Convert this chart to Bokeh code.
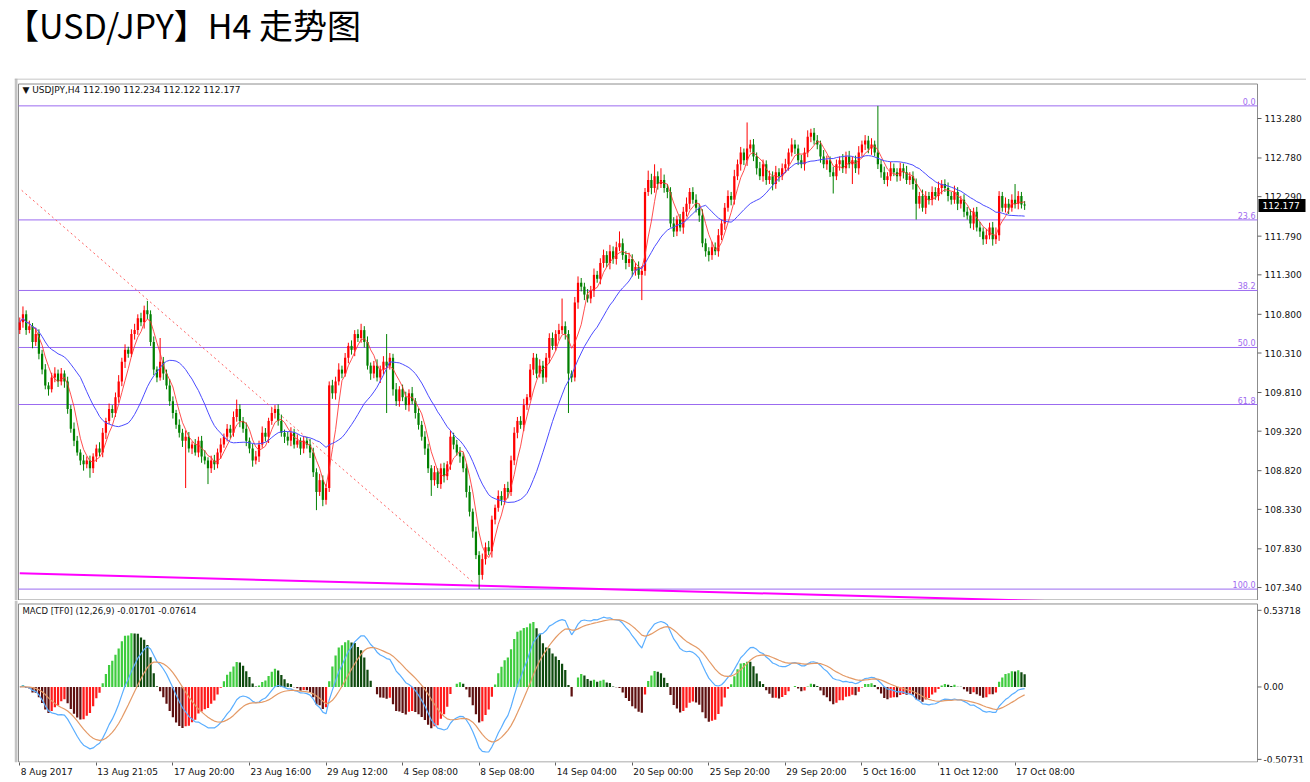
import numpy as np
import pandas as pd
from bokeh.plotting import figure
from bokeh.layouts import column
from bokeh.models import ColumnDataSource, Range1d, FixedTicker, Label, Div
from bokeh.core.properties import value
from bokeh.embed import file_html
from bokeh.resources import INLINE

# ---------------- data ----------------
closes = [
    110.70, 110.80, 110.60, 110.65, 110.45, 110.55, 110.30, 110.10, 109.90, 109.85,
    110.00, 110.05, 109.95, 110.05, 109.95, 109.60, 109.35, 109.20, 109.05, 108.95,
    108.90, 108.95, 108.85, 109.00, 109.10, 109.05, 109.30, 109.45, 109.60, 109.55,
    109.75, 109.95, 110.20, 110.35, 110.30, 110.55, 110.60, 110.75, 110.70, 110.85,
    110.80, 110.45, 110.10, 110.00, 110.20, 110.05, 109.90, 109.70, 109.55, 109.40,
    109.30, 109.20, 109.25, 109.10, 109.15, 109.05, 109.20, 109.00, 108.95, 108.85,
    108.95, 108.90, 109.05, 109.15, 109.25, 109.35, 109.30, 109.50, 109.60, 109.45,
    109.35, 109.20, 109.10, 108.95, 109.00, 109.15, 109.30, 109.25, 109.45, 109.55,
    109.60, 109.45, 109.30, 109.25, 109.20, 109.30, 109.15, 109.20, 109.10, 109.20,
    109.15, 109.05, 108.80, 108.55, 108.70, 108.45, 108.60, 109.90, 109.80, 109.95,
    110.10, 110.05, 110.25, 110.40, 110.35, 110.55, 110.50, 110.60, 110.45, 110.15,
    110.05, 110.15, 110.00, 110.10, 110.20, 110.15, 110.25, 109.85, 109.70, 109.85,
    109.75, 109.65, 109.80, 109.70, 109.55, 109.40, 109.25, 109.10, 108.85, 108.70,
    108.80, 108.65, 108.85, 108.75, 108.90, 109.25, 109.15, 109.05, 109.00, 108.85,
    108.55, 108.30, 108.05, 107.75, 107.50, 107.70, 107.85, 107.80, 108.20, 108.35,
    108.50, 108.45, 108.60, 108.55, 108.95, 109.30, 109.45, 109.40, 109.65, 109.75,
    110.10, 110.25, 110.05, 110.15, 110.00, 110.25, 110.50, 110.40, 110.55, 110.60,
    110.65, 110.55, 110.05, 110.00, 110.95, 111.20, 111.15, 111.05, 111.00, 111.10,
    111.30, 111.25, 111.45, 111.55, 111.45, 111.60, 111.50, 111.65, 111.70, 111.55,
    111.45, 111.50, 111.35, 111.40, 111.30, 111.35, 112.35, 112.50, 112.40, 112.55,
    112.45, 112.50, 112.40, 112.35, 111.95, 111.85, 112.00, 111.90, 112.10, 112.20,
    112.35, 112.25, 112.15, 112.05, 111.70, 111.60, 111.55, 111.65, 111.60, 111.80,
    111.95, 112.15, 112.30, 112.25, 112.55, 112.70, 112.85, 112.75, 112.90, 112.95,
    112.80, 112.65, 112.55, 112.70, 112.50, 112.55, 112.45, 112.60, 112.55, 112.65,
    112.70, 112.85, 112.95, 112.90, 112.75, 112.70, 112.85, 113.05, 113.10, 113.00,
    112.95, 112.80, 112.70, 112.75, 112.60, 112.55, 112.70, 112.75, 112.65, 112.80,
    112.70, 112.75, 112.65, 112.85, 112.95, 113.00, 112.90, 112.95, 112.85, 112.70,
    112.60, 112.50, 112.55, 112.65, 112.60, 112.55, 112.65, 112.60, 112.50, 112.55,
    112.45, 112.20, 112.30, 112.15, 112.30, 112.25, 112.35, 112.30, 112.40, 112.45,
    112.40, 112.30, 112.25, 112.35, 112.20, 112.25, 112.10, 112.05, 111.95, 112.10,
    111.90, 111.85, 111.75, 111.80, 111.90, 111.75, 111.80, 112.30, 112.15, 112.20,
    112.15, 112.25, 112.20, 112.30, 112.19, 112.177,
]
first_open = 110.60

# wick lengths beyond the body, in hundredths of a yen
upper_wick = [
    6, 10, 5, 7, 4, 8, 6, 5, 7, 4, 6, 8, 5, 7, 4, 6, 5, 8, 6, 4, 7, 5, 6, 4,
    5, 8, 6, 4, 7, 5, 6, 8, 5, 7, 4, 6, 8, 5, 7, 6, 12, 5, 7, 4, 30, 6, 5, 8,
    6, 4, 7, 5, 8, 6, 4, 7, 5, 6, 8, 4, 6, 7, 5, 8, 4, 6, 5, 7, 12, 6, 5, 8,
    4, 6, 7, 5, 8, 6, 4, 7, 5, 6, 8, 4, 6, 7, 5, 8, 4, 6, 5, 7, 6, 5, 8, 6,
    5, 5, 7, 6, 8, 5, 6, 4, 7, 5, 6, 8, 5, 7, 4, 6, 8, 5, 7, 35, 6, 5, 8, 4,
    6, 7, 5, 8, 4, 6, 5, 7, 6, 4, 8, 5, 6, 7, 4, 8, 5, 6, 7, 5, 6, 8, 4, 6,
    5, 7, 6, 8, 5, 4, 7, 6, 5, 8, 6, 7, 5, 6, 8, 4, 7, 6, 5, 8, 6, 6, 6, 7,
    5, 8, 35, 6, 5, 4, 7, 8, 6, 5, 7, 6, 8, 5, 6, 7, 5, 8, 6, 7, 15, 6, 5, 8,
    6, 5, 7, 6, 5, 12, 8, 15, 6, 15, 7, 5, 6, 8, 5, 7, 6, 8, 5, 6, 7, 5, 8, 6,
    5, 7, 6, 8, 5, 6, 7, 5, 8, 6, 7, 5, 33, 6, 7, 5, 8, 6, 5, 7, 6, 8, 5, 6,
    7, 5, 8, 6, 5, 7, 6, 8, 5, 6, 7, 5, 8, 6, 5, 7, 6, 5, 8, 6, 7, 5, 6, 8,
    5, 7, 6, 8, 5, 59, 6, 7, 5, 8, 6, 5, 7, 6, 8, 5, 6, 7, 5, 8, 6, 5, 7, 6,
    8, 5, 6, 7, 5, 8, 6, 5, 7, 6, 8, 5, 6, 7, 5, 8, 6, 7, 10, 6, 5, 8, 6, 7,
    20, 6, 5, 4.4,
]
lower_wick = [
    5, 7, 6, 4, 8, 5, 7, 6, 5, 8, 4, 6, 7, 5, 8, 6, 5, 7, 4, 6, 8, 5, 12, 6,
    7, 5, 6, 8, 4, 6, 5, 7, 6, 8, 5, 4, 7, 6, 5, 8, 6, 5, 7, 6, 4, 8, 5, 6,
    7, 5, 6, 8, 60, 5, 7, 4, 6, 8, 5, 20, 6, 7, 5, 8, 4, 6, 7, 5, 6, 8, 5, 7,
    6, 8, 5, 7, 4, 6, 8, 5, 7, 6, 5, 8, 6, 7, 5, 4, 8, 6, 5, 7, 6, 23, 5, 8,
    6, 5, 7, 8, 5, 6, 4, 7, 6, 8, 5, 6, 7, 5, 8, 6, 5, 7, 6, 60, 5, 8, 6, 7,
    5, 6, 8, 4, 7, 6, 5, 8, 6, 20, 7, 5, 6, 8, 5, 7, 6, 4, 8, 5, 7, 6, 8, 5,
    18, 6, 7, 5, 8, 6, 5, 7, 6, 8, 5, 6, 7, 5, 8, 6, 4, 7, 6, 5, 8, 6, 7, 5,
    6, 8, 5, 7, 50, 6, 5, 8, 6, 7, 5, 6, 8, 5, 7, 6, 5, 8, 6, 7, 5, 6, 8, 5,
    7, 6, 5, 32, 6, 5, 8, 6, 7, 5, 6, 8, 5, 7, 6, 5, 8, 6, 7, 5, 6, 8, 5, 7,
    8, 6, 5, 7, 6, 8, 5, 7, 6, 5, 8, 6, 7, 5, 6, 8, 5, 7, 6, 5, 8, 6, 7, 5,
    6, 8, 5, 7, 6, 5, 8, 6, 7, 5, 6, 8, 5, 7, 6, 22, 5, 8, 6, 7, 5, 25, 6, 8,
    5, 7, 6, 8, 5, 6, 7, 5, 8, 6, 5, 7, 6, 8, 5, 6, 7, 20, 6, 5, 8, 6, 7, 5,
    6, 8, 5, 7, 6, 5, 8, 6, 7, 5, 6, 8, 5, 7, 7, 6, 5, 8, 6, 7, 5, 6, 8, 5,
    6, 7, 5, 5.5,
]

price_ticks = [113.28, 112.78, 112.29, 111.79, 111.30, 110.80, 110.31, 109.81,
               109.32, 108.82, 108.33, 107.83, 107.34]
macd_ticks = [0.53718, 0.0, -0.50731]
macd_tick_labels = ["0.53718", "0.00", "-0.50731"]
date_ticks = [0, 24, 48, 72, 96, 120, 144, 168, 192, 216, 240, 264, 288, 312]
date_labels = ["8 Aug 2017", "13 Aug 21:05", "17 Aug 20:00", "23 Aug 16:00",
               "29 Aug 12:00", "4 Sep 08:00", "8 Sep 08:00", "14 Sep 04:00",
               "20 Sep 00:00", "25 Sep 20:00", "29 Sep 20:00", "5 Oct 16:00",
               "11 Oct 12:00", "17 Oct 08:00"]
fib_levels = [0.0, 23.6, 38.2, 50.0, 61.8, 100.0]
fib_high = 113.44
fib_low = 107.32
trend_x = [0.6, 142.3]
trend_y = [112.37, 107.40]
support_x = [0, 330]
support_y = [107.52, 107.16]
last_price = 112.177
info_text = "\u25BC USDJPY,H4  112.190 112.234 112.122 112.177"
macd_text = "MACD [TF0] (12,26,9) -0.01701 -0.07614"
title_text = "【USD/JPY】H4 走势图"

# ---------------- derived ----------------
n = len(closes)
idx = np.arange(n)
c = np.array(closes)
o = np.concatenate([[first_open], c[:-1]])
top = np.maximum(o, c)
bot = np.minimum(o, c)
hi = top + np.array(upper_wick) / 100.0
lo = bot - np.array(lower_wick) / 100.0
UP, DN = "#FF0000", "#008000"
ccol = [UP if cc >= oo else DN for oo, cc in zip(o, c)]
bot_draw = np.where(top - bot < 0.012, top - 0.012, bot)

s = pd.Series(c)
ma_fast = s.rolling(5, min_periods=1).mean()
ma_slow = s.rolling(20, min_periods=1).mean()
dif = s.ewm(span=12, adjust=False).mean() - s.ewm(span=26, adjust=False).mean()
dea = dif.ewm(span=9, adjust=False).mean()
hist = 2 * (dif - dea)
hcol = []
for i, h in enumerate(hist):
    prev = hist[i - 1] if i > 0 else 0.0
    if h >= 0:
        hcol.append("#3FCC3F" if h >= prev else "#0E4A0E")
    else:
        hcol.append("#5E1010" if h < prev else "#FF1A1A")

src = ColumnDataSource(dict(x=idx, o=o, c=c, hi=hi, lo=lo, top=top, bot=bot_draw,
                            col=ccol, maf=ma_fast, mas=ma_slow,
                            dif=dif, dea=dea, hist=hist, hcol=hcol))

# ---------------- layout constants (pixels) ----------------
FONT = "DejaVu Sans"
W = 1306
LEFT = 14                        # frame starts at the window border band
PPB = 3.19                       # pixels per bar
XL = -0.4                        # bar value at the inner panel edge (x = 18 px)
X0 = XL - 4 / PPB                # bar value at frame left (x = 14 px)
X1 = X0 + (W - LEFT) / PPB
EDGE = XL + 1239 / PPB           # right panel edge (x = 1257 px)
GRAY = "#8C8C8C"

P1_H = 522                       # price frame 78 .. 600 px
PPY = 78.96                      # px per yen
Y1 = 113.28 + 40 / PPY           # value at y = 78 px
Y0 = Y1 - P1_H / PPY

P2_H = 179
P2_AX = 16
PPM = 143.6                      # px per MACD unit
M1 = 87 / PPM                    # value at y = 600 px
M0 = M1 - (P2_H - P2_AX) / PPM


def bx(px):
    return px / PPB


def py(px):
    return px / PPY


def pm(px):
    return px / PPM


xr = Range1d(X0, X1)

# ---------------- price panel ----------------
p1 = figure(width=W, height=P1_H, title=None, x_range=xr, y_range=Range1d(Y0, Y1),
            output_backend="svg", toolbar_location=None,
            x_axis_location=None, y_axis_location=None,
            min_border_left=LEFT, min_border_right=0, min_border_top=0, min_border_bottom=0)
p1.grid.visible = False
p1.outline_line_color = None
p1.background_fill_color = "white"
p1.border_fill_color = "white"

# window border band and top line
p1.quad(left=[X0], right=[X0 + bx(3)], bottom=[Y0], top=[Y1], fill_color="#C4C4C4", line_color=None)
p1.segment(x0=[X0], x1=[X1], y0=[Y1 - py(0.5)], y1=[Y1 - py(0.5)], line_color="#B4B4B4")
# panel frame (top, bottom, left, right)
ptop, pbot = Y1 - py(5.5), Y0 + py(0.5)
p1.segment(x0=[XL, XL, XL, EDGE], y0=[ptop, pbot, pbot, pbot],
           x1=[EDGE, EDGE, XL, EDGE], y1=[ptop, pbot, ptop, ptop],
           line_color=GRAY, line_width=1)

# fibonacci levels
fib_prices = [fib_high - (fib_high - fib_low) * lv / 100.0 for lv in fib_levels]
p1.segment(x0=[XL] * len(fib_prices), x1=[EDGE] * len(fib_prices), y0=fib_prices, y1=fib_prices,
           line_color="#9B6BF0", line_width=1)
p1.text(x=[EDGE - bx(2)] * len(fib_prices), y=[fp + py(1) for fp in fib_prices],
        text=[f"{lv:.1f}" for lv in fib_levels], text_align="right", text_baseline="bottom",
        text_font=value(FONT), text_font_size="8px", text_color="#A06AF0")

p1.line(trend_x, trend_y, line_color="#FF6060", line_width=1, line_dash="2 3")
p1.line(support_x, support_y, line_color="#FF00FF", line_width=2)

p1.segment(x0="x", y0="hi", x1="x", y1="lo", color="col", line_width=1, source=src)
p1.vbar(x="x", width=0.7, top="top", bottom="bot", fill_color="col", line_color=None, source=src)
p1.line("x", "maf", source=src, line_color="#FF3030", line_width=1, line_alpha=0.85)
p1.line("x", "mas", source=src, line_color="#4B4BFF", line_width=1)

# price scale on the right
p1.segment(x0=[EDGE] * len(price_ticks), x1=[EDGE + bx(4)] * len(price_ticks),
           y0=price_ticks, y1=price_ticks, line_color="#606060", line_width=1)
p1.text(x=[EDGE + bx(7)] * len(price_ticks), y=price_ticks,
        text=[f"{t:.3f}" for t in price_ticks], text_align="left", text_baseline="middle",
        text_font=value(FONT), text_font_size="9px", text_color="#111111")
# current price tag
p1.quad(left=[EDGE + bx(1)], right=[EDGE + bx(48)], bottom=[last_price - py(6.5)],
        top=[last_price + py(6.5)], fill_color="black", line_color=None)
p1.text(x=[EDGE + bx(5)], y=[last_price], text=[f"{last_price:.3f}"], text_align="left",
        text_baseline="middle", text_font=value(FONT), text_font_size="9px", text_color="white")

p1.add_layout(Label(x=XL + bx(4), y=Y1 - py(11), text=info_text, text_font=FONT,
                    text_font_size="9px", text_color="#111111", text_baseline="middle"))

# ---------------- MACD panel ----------------
p2 = figure(width=W, height=P2_H, title=None, x_range=xr, y_range=Range1d(M0, M1),
            output_backend="svg", toolbar_location=None, y_axis_location=None,
            min_border_left=LEFT, min_border_right=0, min_border_top=0, min_border_bottom=0)
p2.grid.visible = False
p2.outline_line_color = None
p2.background_fill_color = "white"
p2.border_fill_color = "white"

p2.quad(left=[X0], right=[X0 + bx(3)], bottom=[M0], top=[M1], fill_color="#C4C4C4", line_color=None)
mtop, mbot = M1 - pm(3.5), M0 + pm(0.5)
p2.segment(x0=[XL, XL, XL, EDGE], y0=[mtop, mbot, mbot, mbot],
           x1=[EDGE, EDGE, XL, EDGE], y1=[mtop, mbot, mtop, mtop],
           line_color=GRAY, line_width=1)

p2.vbar(x="x", width=0.7, top="hist", bottom=0, fill_color="hcol", line_color=None, source=src)
p2.line("x", "dif", source=src, line_color="#5AAEFF", line_width=1.2)
p2.line("x", "dea", source=src, line_color="#E49A66", line_width=1.2)
p2.add_layout(Label(x=XL + bx(4), y=M1 - pm(11), text=macd_text, text_font=FONT,
                    text_font_size="8.5px", text_color="#111111", text_baseline="middle"))

# MACD scale on the right
p2.segment(x0=[EDGE] * 3, x1=[EDGE + bx(4)] * 3, y0=macd_ticks, y1=macd_ticks,
           line_color="#606060", line_width=1)
p2.text(x=[EDGE + bx(6)] * 3, y=macd_ticks, text=macd_tick_labels, text_align="left",
        text_baseline="middle", text_font=value(FONT), text_font_size="9px", text_color="#111111")

# time axis: minor ticks at the bars, labels left-aligned to them
CW = {" ": 0.318, ":": 0.337, "A": 0.684, "u": 0.634, "g": 0.635, "S": 0.635,
      "e": 0.615, "p": 0.635, "O": 0.787, "c": 0.550, "t": 0.392}


def text_w(t, size=9.0):
    return sum(CW.get(ch, 0.636) for ch in t) * size


label_pos = [tk + bx(text_w(lb) / 2.0 + 1) for tk, lb in zip(date_ticks, date_labels)]
xa = p2.xaxis[0]
xa.ticker = FixedTicker(ticks=label_pos, minor_ticks=date_ticks)
xa.major_label_overrides = dict(zip(label_pos, date_labels))
xa.major_tick_line_color = None
xa.major_tick_out = 3
xa.major_tick_in = 0
xa.minor_tick_out = 3
xa.minor_tick_in = 0
xa.minor_tick_line_color = "#606060"
xa.axis_line_color = None
xa.major_label_standoff = 1
xa.major_label_text_font = FONT
xa.major_label_text_font_size = "9px"
xa.major_label_text_color = "#111111"

title = Div(text=title_text, width=1290, height=78, margin=0,
            styles={"font-family": "'Noto Sans CJK SC'", "font-size": "34px",
                    "line-height": "50px", "color": "#000000", "padding-left": "5px"})

layout = column(title, p1, p2, spacing=0)
open("out.html", "w").write(file_html(layout, INLINE))
